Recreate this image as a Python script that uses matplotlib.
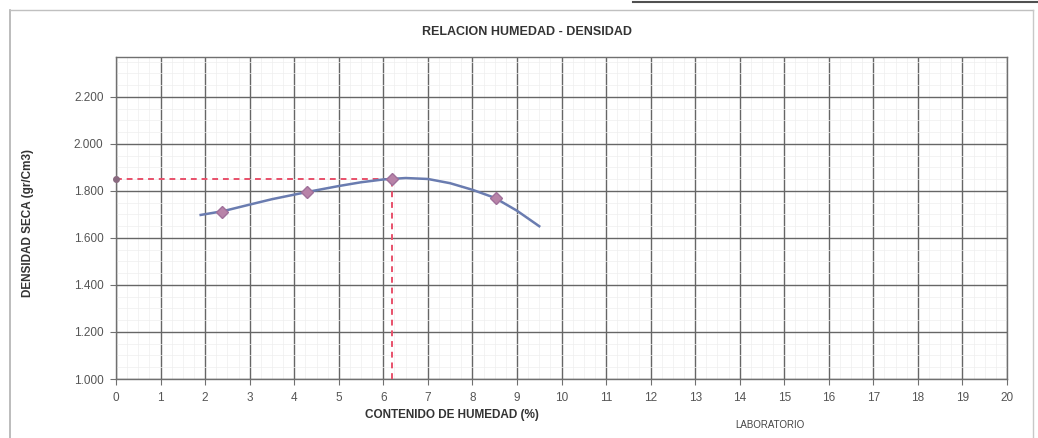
import matplotlib
matplotlib.use("Agg")
import matplotlib.pyplot as plt
from matplotlib.ticker import MultipleLocator, FuncFormatter
from matplotlib.lines import Line2D

plt.rcParams['font.family'] = ['Liberation Sans', 'DejaVu Sans']

# Proctor points: moisture content (%) vs dry density (gr/cm3)
humedad = [2.38, 4.29, 6.20, 8.52]
densidad = [1.710, 1.796, 1.852, 1.770]

# Fitted compaction curve, read along its path
curva_x = [1.9, 2.4, 3.0, 3.5, 4.3, 5.0, 5.5, 6.0, 6.5, 7.0, 7.5, 8.0, 8.5, 9.0, 9.5]
curva_y = [1.698, 1.714, 1.742, 1.765, 1.796, 1.821, 1.837, 1.849, 1.855, 1.851,
           1.833, 1.805, 1.771, 1.716, 1.650]

# Optimum moisture / maximum dry density
hum_optima = 6.2
dens_maxima = 1.850

x_ticks = list(range(0, 21))
y_ticks = [1.0, 1.2, 1.4, 1.6, 1.8, 2.0, 2.2]

fig = plt.figure(figsize=(10.38, 4.38), dpi=100)
ax = fig.add_axes([0.1118, 0.1347, 0.8583, 0.7352])

ax.set_xlim(0, 20)
ax.set_ylim(1.0, 2.37)
ax.set_xticks(x_ticks)
ax.set_yticks(y_ticks)
ax.yaxis.set_major_formatter(FuncFormatter(lambda v, p: f"{v:.3f}"))
ax.xaxis.set_minor_locator(MultipleLocator(0.25))
ax.yaxis.set_minor_locator(MultipleLocator(0.05))

ax.grid(which='major', color='#666666', lw=1.0)
ax.grid(which='minor', color='#eeeeee', lw=0.5)
ax.set_axisbelow(True)
for s in ax.spines.values():
    s.set_color('#707070')
    s.set_linewidth(1.0)
ax.tick_params(which='major', length=4, color='#707070', labelsize=8.5,
               labelcolor='#555555', pad=5)
ax.tick_params(which='minor', length=0)

# dashed guides to the optimum
ax.plot([0, hum_optima], [dens_maxima, dens_maxima], color='#e8506a',
        lw=1.4, ls=(0, (3, 2.5)), zorder=3)
ax.plot([hum_optima, hum_optima], [1.0, dens_maxima], color='#e8506a',
        lw=1.4, ls=(0, (3, 2.5)), zorder=3)
ax.plot([0], [dens_maxima], marker='o', ms=4, color='#8a6a80', clip_on=False,
        zorder=4)

ax.plot(curva_x, curva_y, color='#6a7cb0', lw=1.8, zorder=4)
ax.plot(humedad, densidad, ls='none', marker='D', ms=6, color='#b883a8',
        markeredgecolor='#a0709a', zorder=5)

fig.text(0.508, 0.927, 'RELACION HUMEDAD - DENSIDAD', ha='center', va='center',
         fontsize=9, fontweight='bold', color='#333333')
fig.text(0.435, 0.053, 'CONTENIDO DE HUMEDAD (%)', ha='center', va='center',
         fontsize=8.5, fontweight='bold', color='#333333')
fig.text(0.027, 0.49, 'DENSIDAD SECA (gr/Cm3)', ha='center', va='center',
         rotation=90, fontsize=8.5, fontweight='bold', color='#333333')
fig.text(0.708, 0.03, 'LABORATORIO', ha='left', va='center', fontsize=7,
         color='#444444')

# outer frame of the sheet
fig.add_artist(Line2D([0.0096, 0.0096], [0.0, 0.977], color='#b0b0b0', lw=1.2))
fig.add_artist(Line2D([0.0096, 0.995], [0.977, 0.977], color='#c0c0c0', lw=1.0))
fig.add_artist(Line2D([0.995, 0.995], [0.0, 0.977], color='#c8c8c8', lw=1.0))
fig.add_artist(Line2D([0.61, 1.0], [0.995, 0.995], color='#505050', lw=1.5))

fig.savefig('out.png', dpi=100)
